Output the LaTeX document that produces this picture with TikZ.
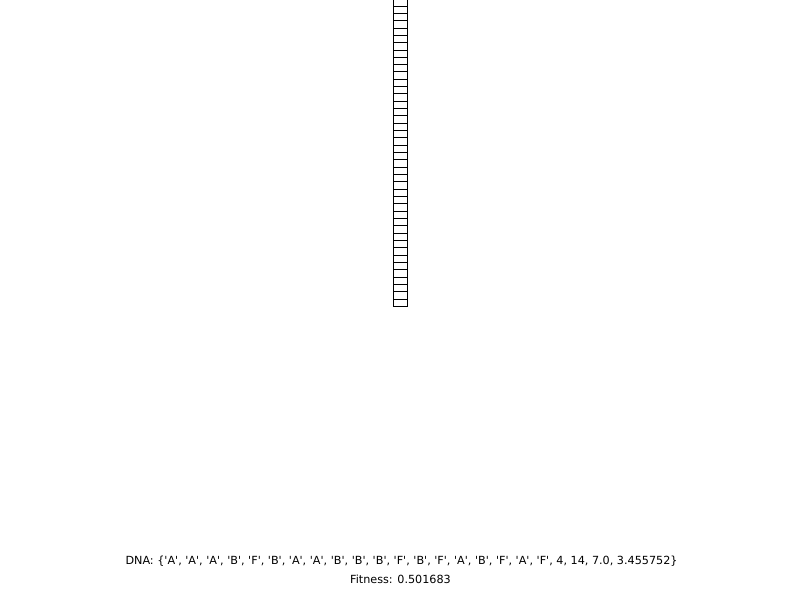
\documentclass[tikz,border=0pt]{standalone}
\usepackage{fontspec}
\setmainfont{DejaVu Sans}
\newcommand\qq{\textquotesingle}
\tikzset{cell/.style={draw=black,line width=1pt},
  caption/.style={inner sep=0pt,anchor=base,font=\fontsize{11.2}{13}\selectfont}}
\begin{document}
\begin{tikzpicture}[x=1pt,y=-1pt]
\useasboundingbox[fill=white] (0,0) rectangle (800,600);
\begin{scope}
\clip (0,0) rectangle (800,600);
\draw[cell] (393.8,-1.33) rectangle (407.2,306.7);
\foreach \k in {0,...,40} {
  \draw[cell] (393.8,{6+7.333*\k}) -- (407.2,{6+7.333*\k});
}
\end{scope}
\node[caption] (dna) at (401.5,564) {DNA: \{\qq A\qq, \qq A\qq, \qq A\qq, \qq B\qq, \qq F\qq, \qq B\qq, \qq A\qq, \qq A\qq, \qq B\qq, \qq B\qq, \qq B\qq, \qq F\qq, \qq B\qq, \qq F\qq, \qq A\qq, \qq B\qq, \qq F\qq, \qq A\qq, \qq F\qq, 4, 14, 7.0, 3.455752\}};
\node[caption] (fit) at (400.5,583) {Fitness: 0.501683};
\end{tikzpicture}
\end{document}
